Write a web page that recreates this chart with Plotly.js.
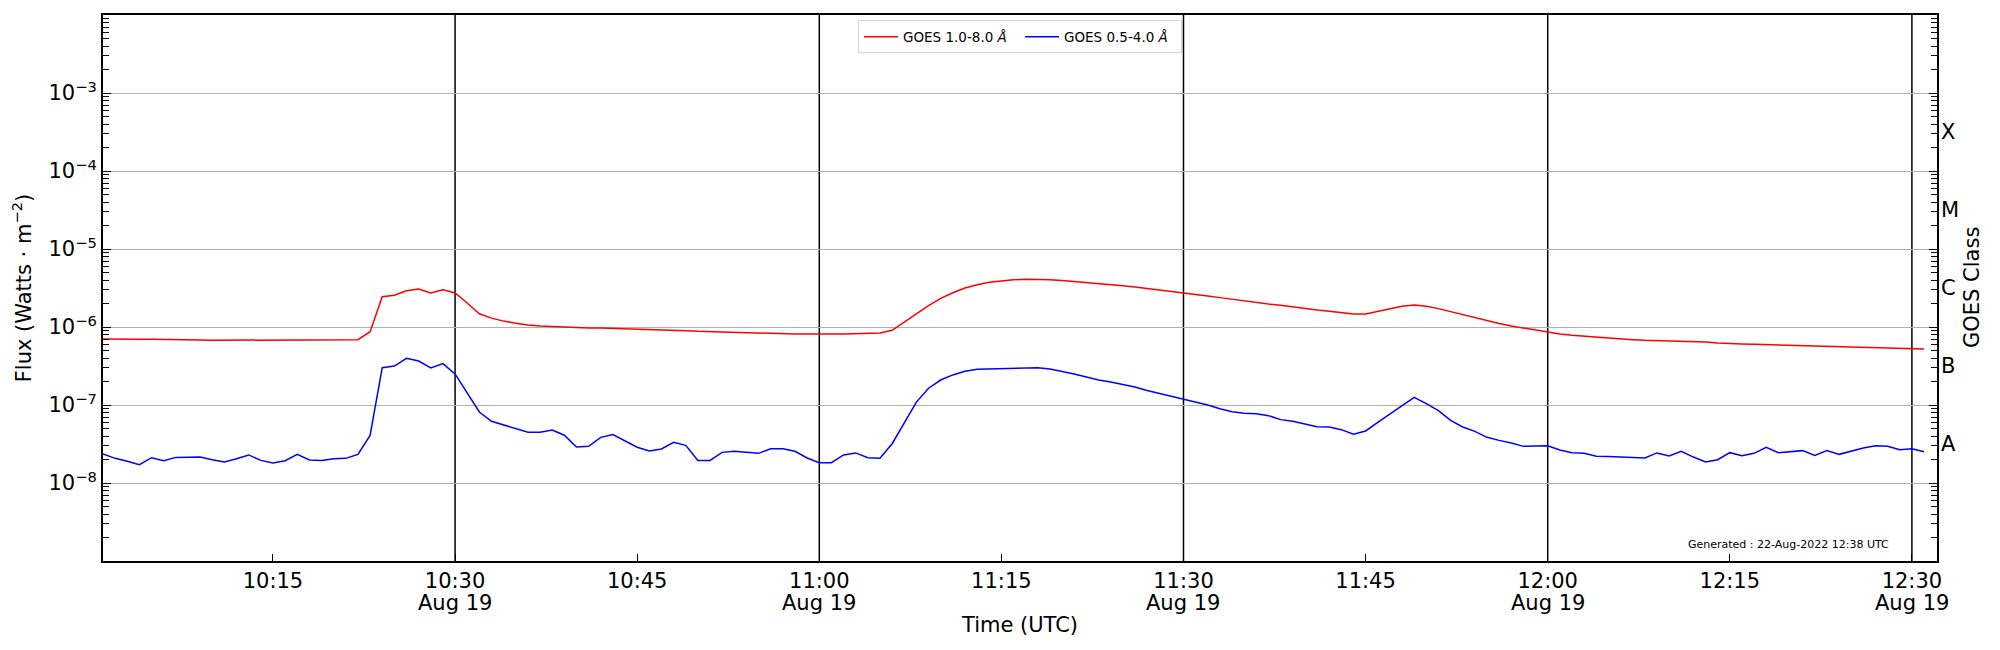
<!DOCTYPE html>
<html>
<head>
<meta charset="utf-8">
<script src="https://cdn.plot.ly/plotly-3.0.1.min.js"></script>
<style>
    html, body { margin: 0; padding: 0; background: #ffffff; }
    #goes-plot { width: 2000px; height: 650px; }
</style>
</head>
<body>
<div id="goes-plot"></div>
<script>
const OBS_DATE = "2022-08-19";

const TIMES = [
    "10:01", "10:02", "10:03", "10:04", "10:05", "10:06", "10:07", "10:08", "10:09", "10:10",
    "10:11", "10:12", "10:13", "10:14", "10:15", "10:16", "10:17", "10:18", "10:19", "10:20",
    "10:21", "10:22", "10:23", "10:24", "10:25", "10:26", "10:27", "10:28", "10:29", "10:30",
    "10:31", "10:32", "10:33", "10:34", "10:35", "10:36", "10:37", "10:38", "10:39", "10:40",
    "10:41", "10:42", "10:43", "10:44", "10:45", "10:46", "10:47", "10:48", "10:49", "10:50",
    "10:51", "10:52", "10:53", "10:54", "10:55", "10:56", "10:57", "10:58", "10:59", "11:00",
    "11:01", "11:02", "11:03", "11:04", "11:05", "11:06", "11:07", "11:08", "11:09", "11:10",
    "11:11", "11:12", "11:13", "11:14", "11:15", "11:16", "11:17", "11:18", "11:19", "11:20",
    "11:21", "11:22", "11:23", "11:24", "11:25", "11:26", "11:27", "11:28", "11:29", "11:30",
    "11:31", "11:32", "11:33", "11:34", "11:35", "11:36", "11:37", "11:38", "11:39", "11:40",
    "11:41", "11:42", "11:43", "11:44", "11:45", "11:46", "11:47", "11:48", "11:49", "11:50",
    "11:51", "11:52", "11:53", "11:54", "11:55", "11:56", "11:57", "11:58", "11:59", "12:00",
    "12:01", "12:02", "12:03", "12:04", "12:05", "12:06", "12:07", "12:08", "12:09", "12:10",
    "12:11", "12:12", "12:13", "12:14", "12:15", "12:16", "12:17", "12:18", "12:19", "12:20",
    "12:21", "12:22", "12:23", "12:24", "12:25", "12:26", "12:27", "12:28", "12:29", "12:30",
    "12:31",
];

// 1.0-8.0 A channel (W m^-2)
const XRSB_FLUX = [
    7.02e-7, 6.95e-7, 6.95e-7, 6.95e-7, 6.95e-7, 6.95e-7, 6.88e-7, 6.88e-7, 6.81e-7, 6.75e-7,
    6.75e-7, 6.75e-7, 6.81e-7, 6.75e-7, 6.75e-7, 6.75e-7, 6.75e-7, 6.75e-7, 6.81e-7, 6.81e-7,
    6.81e-7, 6.88e-7, 8.71e-7, 2.45e-6, 2.55e-6, 2.92e-6, 3.07e-6, 2.73e-6, 3.01e-6, 2.73e-6,
    2.03e-6, 1.48e-6, 1.30e-6, 1.19e-6, 1.12e-6, 1.06e-6, 1.03e-6, 1.01e-6, 1.00e-6, 9.90e-7,
    9.71e-7, 9.71e-7, 9.62e-7, 9.52e-7, 9.43e-7, 9.24e-7, 9.15e-7, 9.06e-7, 8.97e-7, 8.80e-7,
    8.71e-7, 8.54e-7, 8.46e-7, 8.38e-7, 8.29e-7, 8.21e-7, 8.13e-7, 8.13e-7, 8.13e-7, 8.05e-7,
    8.13e-7, 8.13e-7, 8.21e-7, 8.21e-7, 8.38e-7, 9.06e-7, 1.16e-6, 1.48e-6, 1.88e-6, 2.33e-6,
    2.75e-6, 3.16e-6, 3.49e-6, 3.74e-6, 3.93e-6, 4.04e-6, 4.08e-6, 4.08e-6, 4.04e-6, 3.96e-6,
    3.85e-6, 3.74e-6, 3.63e-6, 3.52e-6, 3.39e-6, 3.26e-6, 3.13e-6, 2.98e-6, 2.87e-6, 2.73e-6,
    2.62e-6, 2.50e-6, 2.38e-6, 2.26e-6, 2.18e-6, 2.07e-6, 1.97e-6, 1.90e-6, 1.80e-6, 1.74e-6,
    1.65e-6, 1.59e-6, 1.53e-6, 1.47e-6, 1.47e-6, 1.59e-6, 1.72e-6, 1.84e-6, 1.91e-6, 1.84e-6,
    1.72e-6, 1.57e-6, 1.44e-6, 1.33e-6, 1.22e-6, 1.11e-6, 1.03e-6, 9.71e-7, 9.06e-7, 8.54e-7,
    8.13e-7, 7.82e-7, 7.59e-7, 7.37e-7, 7.16e-7, 7.02e-7, 6.88e-7, 6.75e-7, 6.68e-7, 6.62e-7,
    6.49e-7, 6.55e-7, 6.42e-7, 6.24e-7, 6.11e-7, 6.05e-7, 6.00e-7, 5.94e-7, 5.88e-7, 5.77e-7,
    5.71e-7, 5.60e-7, 5.54e-7, 5.54e-7, 5.49e-7, 5.43e-7, 5.43e-7, 5.38e-7, 5.33e-7, 5.27e-7,
    5.22e-7,
];

// 0.5-4.0 A channel (W m^-2)
const XRSA_FLUX = [
    2.35e-8, 2.07e-8, 1.90e-8, 1.72e-8, 2.11e-8, 1.93e-8, 2.13e-8, 2.13e-8, 2.15e-8, 1.99e-8,
    1.86e-8, 2.05e-8, 2.29e-8, 1.95e-8, 1.80e-8, 1.93e-8, 2.33e-8, 1.97e-8, 1.95e-8, 2.05e-8,
    2.07e-8, 2.33e-8, 4.08e-8, 3.01e-7, 3.16e-7, 3.96e-7, 3.66e-7, 2.98e-7, 3.39e-7, 2.50e-7,
    1.43e-7, 8.13e-8, 6.18e-8, 5.54e-8, 5.02e-8, 4.47e-8, 4.47e-8, 4.78e-8, 4.10e-8, 2.90e-8,
    2.95e-8, 3.85e-8, 4.17e-8, 3.42e-8, 2.87e-8, 2.57e-8, 2.73e-8, 3.32e-8, 3.04e-8, 1.95e-8,
    1.95e-8, 2.47e-8, 2.55e-8, 2.47e-8, 2.40e-8, 2.75e-8, 2.75e-8, 2.55e-8, 2.09e-8, 1.82e-8,
    1.82e-8, 2.29e-8, 2.43e-8, 2.11e-8, 2.07e-8, 3.19e-8, 5.82e-8, 1.09e-7, 1.64e-7, 2.09e-7,
    2.43e-7, 2.70e-7, 2.87e-7, 2.90e-7, 2.92e-7, 2.95e-7, 3.01e-7, 3.01e-7, 2.89e-7, 2.70e-7,
    2.50e-7, 2.28e-7, 2.09e-7, 1.97e-7, 1.84e-7, 1.70e-7, 1.53e-7, 1.41e-7, 1.30e-7, 1.18e-7,
    1.09e-7, 1.00e-7, 8.97e-8, 8.22e-8, 7.82e-8, 7.74e-8, 7.30e-8, 6.49e-8, 6.18e-8, 5.77e-8,
    5.28e-8, 5.23e-8, 4.83e-8, 4.21e-8, 4.65e-8, 6.00e-8, 7.67e-8, 9.80e-8, 1.25e-7, 1.04e-7,
    8.45e-8, 6.35e-8, 5.23e-8, 4.59e-8, 3.85e-8, 3.52e-8, 3.26e-8, 2.95e-8, 3.01e-8, 3.01e-8,
    2.65e-8, 2.45e-8, 2.40e-8, 2.20e-8, 2.18e-8, 2.15e-8, 2.15e-8, 2.09e-8, 2.43e-8, 2.22e-8,
    2.55e-8, 2.15e-8, 1.86e-8, 1.99e-8, 2.45e-8, 2.24e-8, 2.40e-8, 2.87e-8, 2.45e-8, 2.52e-8,
    2.60e-8, 2.26e-8, 2.60e-8, 2.33e-8, 2.57e-8, 2.81e-8, 3.01e-8, 2.95e-8, 2.67e-8, 2.75e-8,
    2.52e-8,
];

const X_TICK_TIMES = ["10:15", "10:30", "10:45", "11:00", "11:15", "11:30", "11:45", "12:00", "12:15", "12:30"];
const HALF_HOUR_MARKS = ["10:30", "11:00", "11:30", "12:00", "12:30"];
const DATE_LABEL = "Aug 19";

const FLUX_TICKS = [1e-8, 1e-7, 1e-6, 1e-5, 1e-4, 1e-3];
const FLUX_TICK_LABELS = [
    "10<sup>−8</sup>", "10<sup>−7</sup>", "10<sup>−6</sup>",
    "10<sup>−5</sup>", "10<sup>−4</sup>", "10<sup>−3</sup>",
];
// GOES class letters sit half a decade above each class threshold
const CLASS_LEVELS = [3.162e-8, 3.162e-7, 3.162e-6, 3.162e-5, 3.162e-4];
const CLASS_LABELS = ["A", "B", "C", "M", "X"];

const X_START = "2022-08-19 10:01:00";
const X_END = "2022-08-19 12:32:04";
const FONT = "\"DejaVu Sans\", \"Liberation Sans\", sans-serif";
const LABEL_SIZE = 21;


function stamp(hhmm) {
    return `${OBS_DATE} ${hhmm}:00`;
}


function logMinorTicks() {
    const vals = [];
    for (let exp = -9; exp < -2; exp++) {
        for (let k = 2; k <= 9; k++) {
            vals.push(k * Math.pow(10, exp));
        }
    }
    return vals;
}


function buildAnnotations() {
    const notes = [];
    // second row of the date ticks
    HALF_HOUR_MARKS.forEach((hhmm) => {
        notes.push({
            xref: "x",
            yref: "paper",
            x: stamp(hhmm),
            y: 0,
            xanchor: "center",
            yanchor: "top",
            yshift: -28,
            showarrow: false,
            text: DATE_LABEL,
            font: { size: LABEL_SIZE, family: FONT, color: "#000000" },
        });
    });
    // GOES class letters on the right edge
    CLASS_LEVELS.forEach((level, index) => {
        notes.push({
            xref: "paper",
            yref: "y",
            x: 1,
            y: Math.log10(level),
            xanchor: "left",
            yanchor: "middle",
            xshift: 2,
            showarrow: false,
            text: CLASS_LABELS[index],
            font: { size: LABEL_SIZE, family: FONT, color: "#000000" },
        });
    });
    notes.push({
        xref: "paper",
        yref: "paper",
        x: 1,
        y: 0.5,
        xanchor: "center",
        yanchor: "middle",
        xshift: 35,
        textangle: -90,
        showarrow: false,
        text: "GOES Class",
        font: { size: LABEL_SIZE, family: FONT, color: "#000000" },
    });
    notes.push({
        xref: "paper",
        yref: "paper",
        x: 0.975,
        y: 0.031,
        xanchor: "right",
        yanchor: "middle",
        showarrow: false,
        text: "Generated : 22-Aug-2022 12:38 UTC",
        font: { size: 11, family: FONT, color: "#000000" },
    });
    return notes;
}


function renderGoesPlot(container) {
    const x = TIMES.map(stamp);
    const traces = [
        {
            type: "scatter",
            mode: "lines",
            name: "GOES 1.0-8.0 <i>Å</i>",
            x: x,
            y: XRSB_FLUX,
            line: { color: "#ff0000", width: 1.5 },
        },
        {
            type: "scatter",
            mode: "lines",
            name: "GOES 0.5-4.0 <i>Å</i>",
            x: x,
            y: XRSA_FLUX,
            line: { color: "#0000ff", width: 1.5 },
        },
    ];

    const shapes = HALF_HOUR_MARKS.map((hhmm) => ({
        type: "line",
        xref: "x",
        yref: "paper",
        x0: stamp(hhmm),
        x1: stamp(hhmm),
        y0: 0,
        y1: 1,
        layer: "below",
        line: { color: "#000000", width: 1.5 },
    }));

    const layout = {
        width: 2000,
        height: 650,
        margin: { l: 103, r: 63, t: 15, b: 89 },
        paper_bgcolor: "#ffffff",
        plot_bgcolor: "#ffffff",
        font: { family: FONT, size: LABEL_SIZE, color: "#000000" },
        showlegend: true,
        legend: {
            orientation: "h",
            x: 0.5,
            xanchor: "center",
            y: 0.99,
            yanchor: "top",
            bgcolor: "rgba(255,255,255,0.8)",
            bordercolor: "#d6d6d6",
            borderwidth: 1,
            font: { size: 13.5, family: FONT },
            itemwidth: 34,
            entrywidth: 112,
            entrywidthmode: "pixels",
        },
        xaxis: {
            type: "date",
            range: [X_START, X_END],
            tickmode: "array",
            tickvals: X_TICK_TIMES.map(stamp),
            ticktext: X_TICK_TIMES,
            ticks: "inside",
            ticklen: 7,
            tickwidth: 1,
            tickcolor: "#000000",
            showgrid: false,
            zeroline: false,
            showline: true,
            linecolor: "#000000",
            linewidth: 2,
            mirror: true,
            tickfont: { size: LABEL_SIZE },
            title: { text: "Time (UTC)", font: { size: LABEL_SIZE }, standoff: 25 },
        },
        yaxis: {
            type: "log",
            range: [-9, -2],
            tickmode: "array",
            tickvals: FLUX_TICKS,
            ticktext: FLUX_TICK_LABELS,
            ticks: "inside",
            ticklen: 8,
            tickwidth: 1,
            tickcolor: "#000000",
            minor: {
                tickmode: "array",
                tickvals: logMinorTicks(),
                ticks: "inside",
                ticklen: 6,
                tickwidth: 1,
                tickcolor: "#000000",
                showgrid: false,
            },
            showgrid: true,
            gridcolor: "#b0b0b0",
            gridwidth: 1,
            zeroline: false,
            showline: true,
            linecolor: "#000000",
            linewidth: 2,
            mirror: "ticks",
            tickfont: { size: LABEL_SIZE },
            title: { text: "Flux (Watts · m<sup>−2</sup>)", font: { size: LABEL_SIZE }, standoff: 11 },
        },
        shapes: shapes,
        annotations: buildAnnotations(),
    };

    Plotly.newPlot(container, traces, layout, { displayModeBar: false, responsive: false });
}


renderGoesPlot(document.getElementById("goes-plot"));
</script>
</body>
</html>
